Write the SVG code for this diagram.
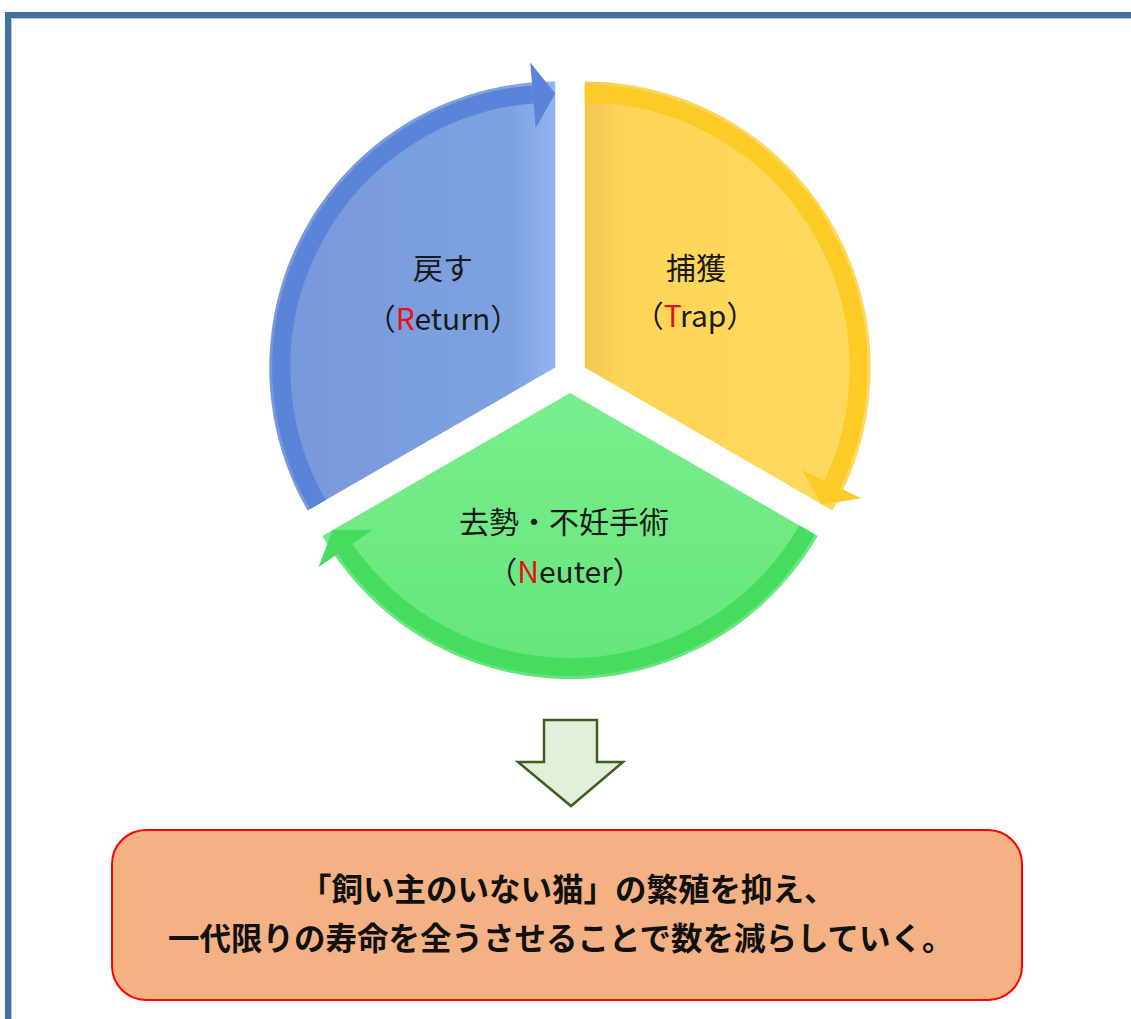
<svg xmlns="http://www.w3.org/2000/svg" width="1131" height="1019" viewBox="0 0 1131 1019">
  <style>
    .lbl { font-family: "Noto Sans CJK JP", "Noto Sans", sans-serif; font-size: 30px; fill: #1a1a1a; text-anchor: middle; }
    .red { fill: #e8101a; }
    .msg { font-family: "Noto Sans CJK JP", "Noto Sans", sans-serif; font-size: 31.5px; font-weight: bold; fill: #111; }
  </style>
  <defs>
    <linearGradient id="gBlue" x1="0" y1="0" x2="1" y2="0">
      <stop offset="0" stop-color="#7798da"/>
      <stop offset="0.85" stop-color="#7ea2e0"/>
      <stop offset="1" stop-color="#93b3f0"/>
    </linearGradient>
    <linearGradient id="gYellow" x1="0" y1="0" x2="1" y2="0">
      <stop offset="0" stop-color="#f0c650"/>
      <stop offset="0.12" stop-color="#fcd458"/>
      <stop offset="1" stop-color="#ffd95e"/>
    </linearGradient>
    <linearGradient id="gGreen" x1="0" y1="0" x2="0" y2="1">
      <stop offset="0" stop-color="#78ef8c"/>
      <stop offset="1" stop-color="#66e47c"/>
    </linearGradient>
  </defs>

  <!-- frame -->
  <rect x="8" y="15" width="1200" height="1100" fill="none" stroke="#44709d" stroke-width="6"/>
  <path d="M11.5 1019 V18.5 H1131" fill="none" stroke="#b3c7de" stroke-width="1"/>

  <g id="node-return">
    <path d="M555.28 367.5 L307.6 510.5 A286 286 0 0 1 555.28 81.5 Z" fill="url(#gBlue)"/>
    <path d="M317.99 504.5 A274 274 0 0 1 532.83 94.42" fill="none" stroke="#5a84d8" stroke-width="18"/>
    <path d="M555.28 93.5 L535.61 128.31 L530.21 62.53 Z" fill="#5a84d8"/>
    <text class="lbl" x="443" y="279">戻す</text>
    <text class="lbl" x="443" y="330">（<tspan class="red">R</tspan>eturn）</text>
  </g>

  <g id="node-trap">
    <path d="M584.72 367.5 L584.72 81.5 A286 286 0 0 1 832.4 510.5 Z" fill="url(#gYellow)"/>
    <path d="M584.72 93.5 A274 274 0 0 1 832.44 484.6" fill="none" stroke="#fccb25" stroke-width="18"/>
    <path d="M822.01 504.5 L801.7 470.07 L861.37 498.27 Z" fill="#fccb25"/>
    <text class="lbl" x="696" y="279">捕獲</text>
    <text class="lbl" x="695" y="327">（<tspan class="red">T</tspan>rap）</text>
  </g>

  <g id="node-neuter">
    <path d="M570 393 L817.68 536 A286 286 0 0 1 322.32 536 Z" fill="url(#gGreen)"/>
    <path d="M807.29 530 A274 274 0 0 1 344.73 548.98" fill="none" stroke="#46dc60" stroke-width="18"/>
    <path d="M332.71 530 L372.69 529.63 L318.43 567.2 Z" fill="#46dc60"/>
    <text class="lbl" x="564" y="533">去勢・不妊手術</text>
    <text class="lbl" x="565" y="583">（<tspan class="red">N</tspan>euter）</text>
  </g>

  <g id="connectors">
    <path d="M544 720 H597 V762 H623 L571 806 L518 762 H544 Z" fill="#e2efd9" stroke="#3f5e22" stroke-width="2.5" stroke-linejoin="miter"/>
  </g>

  <g id="node-result">
    <rect x="112" y="830" width="910" height="170" rx="34" ry="34" fill="#f4b183" stroke="#ff0000" stroke-width="2"/>
    <text class="msg" x="300" y="901">「飼い主のいない猫」の繁殖を抑え、</text>
    <text class="msg" x="168" y="950">一代限りの寿命を全うさせることで数を減らしていく。</text>
  </g>
</svg>
